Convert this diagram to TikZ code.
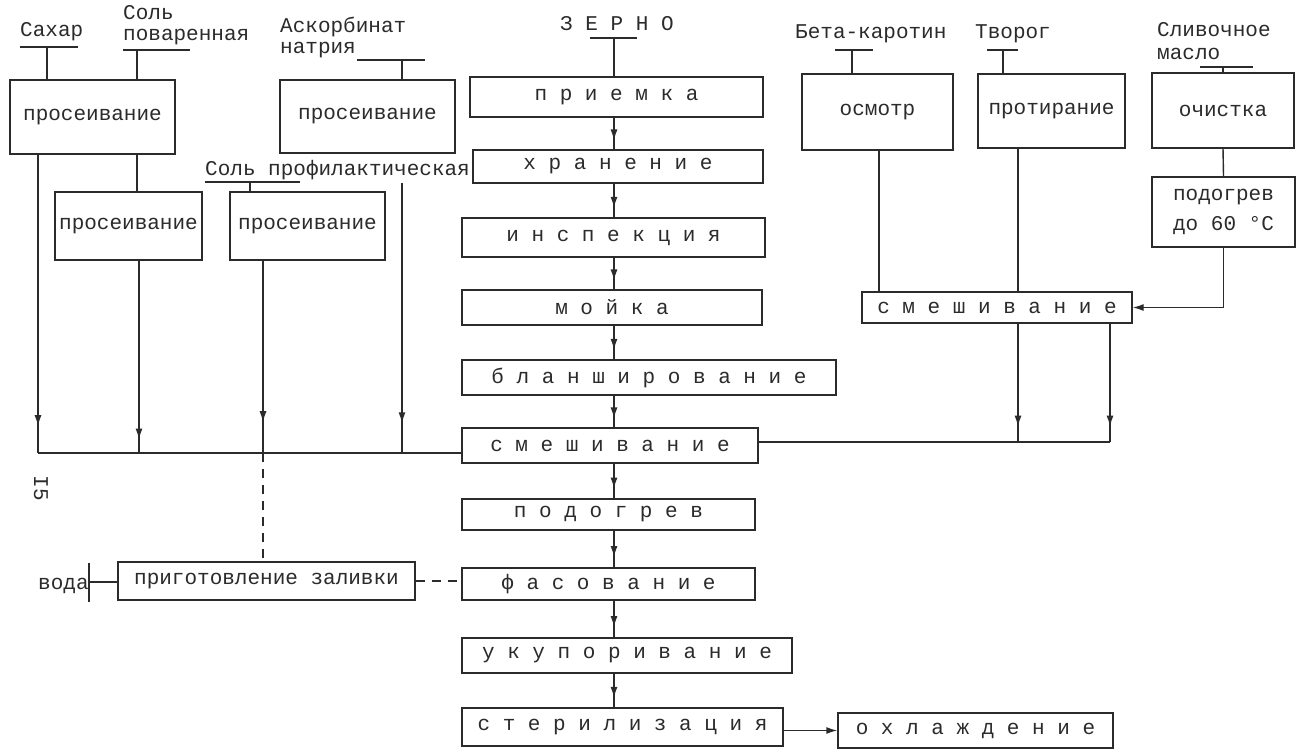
\documentclass[tikz,border=0pt]{standalone}
\usepackage{fontspec}
\setmainfont{Liberation Mono}
\usetikzlibrary{arrows.meta,decorations.markings}
\definecolor{inkc}{HTML}{2B2B2B}
\newcommand\tyfont{\fontsize{21}{30}\selectfont}
\begin{document}
\begin{tikzpicture}[x=1pt,y=-1pt,
  ink/.style={draw=inkc, line width=1.4pt},
  box/.style={ink, rectangle, inner sep=0pt, align=center, text=inkc, font=\tyfont},
  lbl/.style={text=inkc, font=\tyfont, inner sep=0pt, anchor=base west},
  dashconn/.style={ink, dash pattern=on 9pt off 7pt},
  tipend/.style={-{Latex[length=11pt,width=7pt]}},
  midarrow/.style={postaction={decorate}, decoration={markings, mark=at position #1 with {\arrow{Latex[length=11pt,width=7pt]}}}}
]
\useasboundingbox (0,0) rectangle (1297,751);
\fill[white] (0,0) rectangle (1297,751);

% ---------- left input labels ----------
\node[lbl] (tSah) at (20,37) {Сахар};
\node[lbl] (tSol1) at (123,20) {Соль};
\node[lbl] (tSol2) at (123,41) {поваренная};
\node[lbl] (tAsk1) at (280,33) {Аскорбинат};
\node[lbl] (tAsk2) at (280,54) {натрия};
\node[lbl] (tSolP) at (205,176) {Соль профилактическая};
\node[lbl] (tVoda) at (38,589) {вода};
\node[text=inkc, font=\tyfont, inner sep=0pt, rotate=-90] (pg) at (41,488) {I5};

% underlines
\draw[ink] (20,47) -- (78,47);
\draw[ink] (123,50) -- (190,50);
\draw[ink] (357,60) -- (425,60);
\draw[ink] (205,182) -- (300,182);
\coordinate (uSah) at (47,47);
\coordinate (uSol) at (137,50);
\coordinate (uAsk) at (402,60);
\coordinate (uSolP) at (250,182);

% ---------- left boxes ----------
\node[box, minimum width=165pt, minimum height=74pt] (b1) at (92.5,117) {просеивание};
\node[box, minimum width=147pt, minimum height=68pt] (b2) at (128.5,226) {просеивание};
\node[box, minimum width=175pt, minimum height=73pt] (b3) at (367.5,116.5) {просеивание};
\node[box, minimum width=155pt, minimum height=68pt] (b4) at (307.5,226) {просеивание};
\node[box, minimum width=297pt, minimum height=38pt] (prep) at (266.5,581) {приготовление заливки};

% ---------- central column ----------
\node[lbl] (tZer) at (560,31) {З Е Р Н О};
\draw[ink] (590,38) -- (637,38);
\coordinate (uZer) at (614,38);

\node[box, minimum width=293pt, minimum height=40pt] (c1) at (616.5,97) {п р и е м к а};
\node[box, minimum width=290pt, minimum height=33pt] (c2) at (618,166.5) {х р а н е н и е};
\node[box, minimum width=303pt, minimum height=39pt] (c3) at (613.5,237.5) {и н с п е к ц и я};
\node[box, minimum width=300pt, minimum height=35pt] (c4) at (612,307.5) {м о й к а};
\node[box, minimum width=374pt, minimum height=35pt] (c5) at (649,377.5) {б л а н ш и р о в а н и е};
\node[box, minimum width=296pt, minimum height=35pt] (c6) at (610,445.5) {с м е ш и в а н и е};
\node[box, minimum width=293pt, minimum height=31pt] (c7) at (608.5,514.5) {п о д о г р е в};
\node[box, minimum width=293pt, minimum height=32pt] (c8) at (608.5,584) {ф а с о в а н и е};
\node[box, minimum width=330pt, minimum height=35pt] (c9) at (627,655.5) {у к у п о р и в а н и е};
\node[box, minimum width=321pt, minimum height=38pt] (c10) at (622.5,727) {с т е р и л и з а ц и я};
\node[box, minimum width=275pt, minimum height=35pt] (c11) at (975.5,730.5) {о х л а ж д е н и е};

% ---------- right labels ----------
\node[lbl] (tBeta) at (795,39) {Бета-каротин};
\node[lbl] (tTvor) at (975,39) {Творог};
\node[lbl] (tSliv1) at (1157,37) {Сливочное};
\node[lbl] (tSliv2) at (1157,60) {масло};
\draw[ink] (835,50) -- (873,50);
\draw[ink] (987,50) -- (1018,50);
\draw[ink] (1200,67) -- (1253,67);
\coordinate (uBeta) at (852,50);
\coordinate (uTvor) at (1003,50);
\coordinate (uSliv) at (1223,67);

% ---------- right boxes ----------
\node[box, minimum width=151pt, minimum height=76pt] (r1) at (877.5,112) {осмотр};
\node[box, minimum width=147pt, minimum height=74pt] (r2) at (1051.5,111) {протирание};
\node[box, minimum width=142pt, minimum height=75pt] (r3) at (1223,110.5) {очистка};
\node[box, minimum width=143pt, minimum height=70pt] (r4) at (1223.5,212) {подогрев\\до 60 °C};
\node[box, minimum width=270pt, minimum height=31pt] (r5) at (997,307.5) {с м е ш и в а н и е};

% ---------- helper coordinates ----------
\coordinate (ax) at (614,0);
\coordinate (lx1) at (38,0);
\coordinate (lx2) at (137,0);
\coordinate (lx3) at (139,0);
\coordinate (lx4) at (263,0);
\coordinate (lx5) at (402,0);
\coordinate (busL) at (0,453);
\coordinate (busR) at (0,442);
\coordinate (rx1) at (879,0);
\coordinate (rx2) at (1018,0);
\coordinate (rx3) at (1110,0);
\coordinate (askStart) at (402,183);
\coordinate (vodaTick) at (89,582);

% ---------- input connectors ----------
\draw[ink] (uSah) -- (uSah |- b1.north);
\draw[ink] (uSol) -- (uSol |- b1.north);
\draw[ink] (uAsk) -- (uAsk |- b3.north);
\draw[ink] (uSolP) -- (uSolP |- b4.north);
\draw[ink] (uZer) -- (uZer |- c1.north);
\draw[ink] (uBeta) -- (uBeta |- r1.north);
\draw[ink] (uTvor) -- (uTvor |- r2.north);
\draw[ink] (uSliv) -- (uSliv |- r3.north);

% ---------- left connectors ----------
\draw[ink, midarrow=0.91] (b1.south -| lx1) -- (lx1 |- busL);
\draw[ink] (b1.south -| lx2) -- (b2.north -| lx2);
\draw[ink, midarrow=0.93] (b2.south -| lx3) -- (lx3 |- busL);
\draw[ink, midarrow=0.84] (b4.south -| lx4) -- (lx4 |- busL);
\draw[ink, midarrow=0.89] (askStart) -- (lx5 |- busL);
\draw[ink] (lx1 |- busL) -- (c6.west |- busL);
\draw[dashconn] (lx4 |- busL) -- (prep.north -| lx4);
\draw[ink] (89,563) -- (89,602);
\draw[ink] (vodaTick) -- (prep.west |- vodaTick);
\draw[dashconn] (prep.east) -- (prep.east -| c8.west);

% ---------- central connectors ----------
\foreach \a/\b in {c1/c2,c2/c3,c3/c4,c4/c5,c5/c6,c6/c7,c7/c8,c8/c9,c9/c10}
  \draw[ink, midarrow=0.72] (\a.south -| ax) -- (\b.north -| ax);
\draw[ink, tipend] (c10.east |- c11.west) -- (c11.west);

% ---------- right connectors ----------
\draw[ink] (r1.south -| rx1) -- (r5.north -| rx1);
\draw[ink] (r2.south -| rx2) -- (r5.north -| rx2);
\draw[ink] (r3.south) -- (r4.north);
\draw[ink, tipend] (r4.south) |- (r5.east);
\draw[ink, midarrow=0.87] (r5.south -| rx2) -- (rx2 |- busR);
\draw[ink, midarrow=0.87] (r5.south -| rx3) -- (rx3 |- busR);
\draw[ink] (rx3 |- busR) -- (c6.east |- busR);
\end{tikzpicture}
\end{document}
